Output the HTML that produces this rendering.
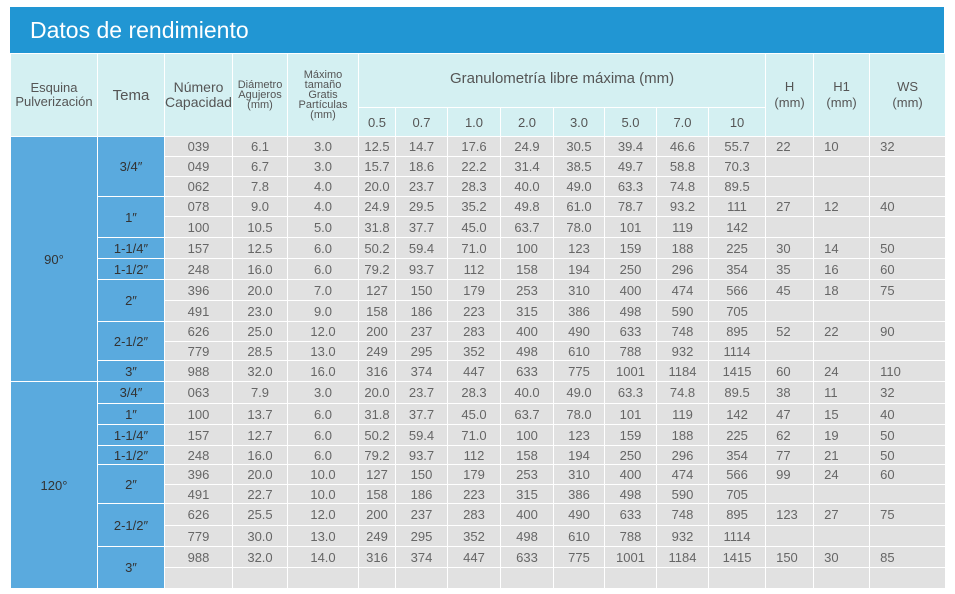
<!DOCTYPE html>
<html><head><meta charset="utf-8"><style>
body{margin:0;width:955px;height:594px;background:#fff;overflow:hidden;font-family:"Liberation Sans",sans-serif;}
#title{position:absolute;left:10px;top:7px;width:934px;height:46px;background:#2196d3;color:#fff;font-size:23px;line-height:46px;}
#title span{padding-left:20px;}
table{position:absolute;left:10px;top:53px;width:934px;border-collapse:collapse;table-layout:fixed;}
td{border:1px solid #fff;padding:0;text-align:center;color:#666;font-size:13px;overflow:hidden;white-space:nowrap;}
td.g{background:#e1e1e1;}
td.b{background:#5aaade;color:#333;}
td.h{background:#d4f0f2;color:#555;}
td.l{text-align:left;padding-left:10px;}
.sm{font-size:11px;line-height:10px;white-space:normal;}
</style></head><body>
<div id="title"><span>Datos de rendimiento</span></div>
<table id="t">
<colgroup>
<col style="width:87px"><col style="width:67px"><col style="width:68px"><col style="width:55px"><col style="width:71px">
<col style="width:37px"><col style="width:52px"><col style="width:53px"><col style="width:53px"><col style="width:51px"><col style="width:52px"><col style="width:52px"><col style="width:57px">
<col style="width:48px"><col style="width:56px"><col style="width:76px">
</colgroup>
<tr style="height:54px">
<td class="h" rowspan="2" style="font-size:13px;line-height:14px;white-space:normal">Esquina Pulverización</td>
<td class="h" rowspan="2" style="font-size:15px">Tema</td>
<td class="h" rowspan="2" style="font-size:14px;line-height:15px;white-space:normal">Número Capacidad</td>
<td class="h sm" rowspan="2" style="vertical-align:top;padding-top:26px">Diámetro<br>Agujeros<br>(mm)</td>
<td class="h sm" rowspan="2" style="vertical-align:top;padding-top:16px">Máximo<br>tamaño<br>Gratis<br>Partículas<br>(mm)</td>
<td class="h" colspan="8" style="font-size:15px;padding-bottom:4px">Granulometría libre máxima (mm)</td>
<td class="h" rowspan="2" style="line-height:16px;white-space:normal">H<br>(mm)</td>
<td class="h" rowspan="2" style="line-height:16px;white-space:normal">H1<br>(mm)</td>
<td class="h" rowspan="2" style="line-height:16px;white-space:normal">WS<br>(mm)</td>
</tr>
<tr style="height:29px"><td class="h">0.5</td><td class="h">0.7</td><td class="h">1.0</td><td class="h">2.0</td><td class="h">3.0</td><td class="h">5.0</td><td class="h">7.0</td><td class="h">10</td></tr>
</table>
<script>
var rows=[
[20,"039","6.1","3.0","12.5","14.7","17.6","24.9","30.5","39.4","46.6","55.7","22","10","32"],
[20,"049","6.7","3.0","15.7","18.6","22.2","31.4","38.5","49.7","58.8","70.3","","",""],
[20,"062","7.8","4.0","20.0","23.7","28.3","40.0","49.0","63.3","74.8","89.5","","",""],
[20,"078","9.0","4.0","24.9","29.5","35.2","49.8","61.0","78.7","93.2","111","27","12","40"],
[21,"100","10.5","5.0","31.8","37.7","45.0","63.7","78.0","101","119","142","","",""],
[21,"157","12.5","6.0","50.2","59.4","71.0","100","123","159","188","225","30","14","50"],
[21,"248","16.0","6.0","79.2","93.7","112","158","194","250","296","354","35","16","60"],
[21,"396","20.0","7.0","127","150","179","253","310","400","474","566","45","18","75"],
[21,"491","23.0","9.0","158","186","223","315","386","498","590","705","","",""],
[20,"626","25.0","12.0","200","237","283","400","490","633","748","895","52","22","90"],
[19,"779","28.5","13.0","249","295","352","498","610","788","932","1114","","",""],
[21,"988","32.0","16.0","316","374","447","633","775","1001","1184","1415","60","24","110"],
[22,"063","7.9","3.0","20.0","23.7","28.3","40.0","49.0","63.3","74.8","89.5","38","11","32"],
[21,"100","13.7","6.0","31.8","37.7","45.0","63.7","78.0","101","119","142","47","15","40"],
[21,"157","12.7","6.0","50.2","59.4","71.0","100","123","159","188","225","62","19","50"],
[19,"248","16.0","6.0","79.2","93.7","112","158","194","250","296","354","77","21","50"],
[20,"396","20.0","10.0","127","150","179","253","310","400","474","566","99","24","60"],
[19,"491","22.7","10.0","158","186","223","315","386","498","590","705","","",""],
[22,"626","25.5","12.0","200","237","283","400","490","633","748","895","123","27","75"],
[21,"779","30.0","13.0","249","295","352","498","610","788","932","1114","","",""],
[21,"988","32.0","14.0","316","374","447","633","775","1001","1184","1415","150","30","85"],
[21,"","","","","","","","","","","","","",""]];
var tema={0:[3,"3/4″"],3:[2,"1″"],5:[1,"1-1/4″"],6:[1,"1-1/2″"],7:[2,"2″"],9:[2,"2-1/2″"],11:[1,"3″"],
12:[1,"3/4″"],13:[1,"1″"],14:[1,"1-1/4″"],15:[1,"1-1/2″"],16:[2,"2″"],18:[2,"2-1/2″"],20:[2,"3″"]};
var h="";
rows.forEach(function(r,i){
 h+='<tr style="height:'+r[0]+'px">';
 if(i==0)h+='<td class="b" rowspan="12">90°</td>';
 if(i==12)h+='<td class="b" rowspan="10">120°</td>';
 if(tema[i])h+='<td class="b" rowspan="'+tema[i][0]+'">'+tema[i][1]+'</td>';
 for(var k=1;k<r.length;k++){h+='<td class="g'+(k>=12?' l':'')+'">'+r[k]+'</td>';}
 h+='</tr>';
});
document.getElementById('t').insertAdjacentHTML('beforeend',h);
</script>
</body></html>
